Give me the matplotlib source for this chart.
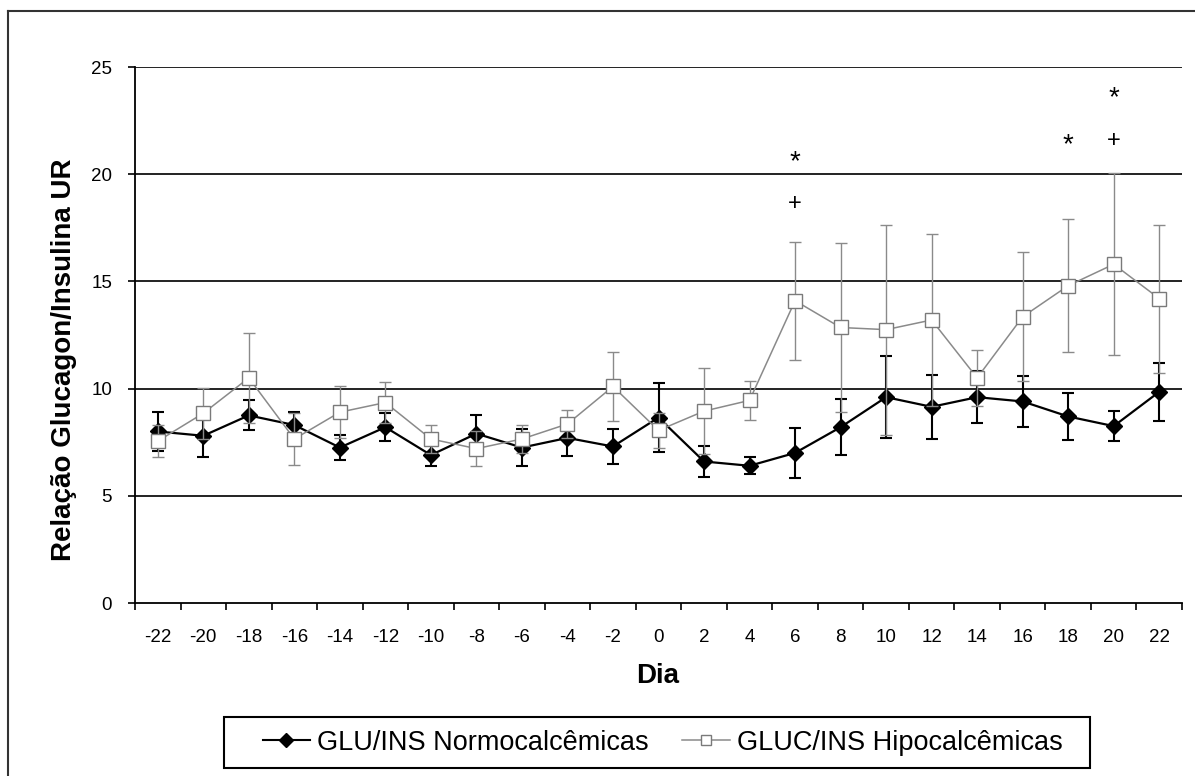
import matplotlib
matplotlib.use("Agg")
import matplotlib.pyplot as plt
from matplotlib.lines import Line2D
from matplotlib.patches import Rectangle

plt.rcParams['font.family'] = ['Liberation Sans', 'DejaVu Sans']

# ---- data ----
day_labels = ['-22', '-20', '-18', '-16', '-14', '-12', '-10', '-8', '-6', '-4', '-2',
              '0', '2', '4', '6', '8', '10', '12', '14', '16', '18', '20', '22']
normo = [8.0, 7.8, 8.75, 8.3, 7.25, 8.2, 6.9, 7.9, 7.25, 7.7, 7.3,
         8.65, 6.6, 6.4, 7.0, 8.2, 9.6, 9.15, 9.6, 9.4, 8.7, 8.25, 9.85]
normo_err = [0.9, 1.0, 0.7, 0.6, 0.6, 0.65, 0.5, 0.85, 0.85, 0.85, 0.8,
             1.6, 0.7, 0.4, 1.15, 1.3, 1.9, 1.5, 1.2, 1.2, 1.1, 0.7, 1.35]
hipo = [7.55, 8.85, 10.5, 7.65, 8.9, 9.35, 7.65, 7.2, 7.65, 8.35, 10.1,
        8.05, 8.95, 9.45, 14.1, 12.85, 12.75, 13.2, 10.5, 13.35, 14.8, 15.8, 14.2]
hipo_err = [0.75, 1.2, 2.1, 1.2, 1.2, 0.95, 0.65, 0.8, 0.65, 0.65, 1.6,
            0.8, 2.0, 0.9, 2.75, 3.95, 4.9, 4.0, 1.3, 3.0, 3.1, 4.25, 3.45]
normo_name = 'GLU/INS Normocalcêmicas'
hipo_name = 'GLUC/INS Hipocalcêmicas'
# significance marks: (day label, y value, symbol)
marks = [('6', 20.55, '*'), ('6', 18.6, '+'),
         ('18', 21.35, '*'), ('20', 23.55, '*'), ('20', 21.55, '+')]
y_ticks = [0, 5, 10, 15, 20, 25]

W, H = 1195, 776
fig = plt.figure(figsize=(W / 100, H / 100), dpi=100)
ax = fig.add_axes([135 / W, 1 - 603 / H, (1182 - 135) / W, (603 - 67) / H])

x = list(range(len(day_labels)))
gray = '#8a8a8a'

# normocalcemic (black)
ax.errorbar(x, normo, yerr=normo_err, fmt='none', ecolor='black',
            elinewidth=1.5, capsize=4.2, capthick=1.5, zorder=3)
ax.plot(x, normo, color='black', lw=1.6, marker='D', markersize=8,
        markerfacecolor='black', markeredgecolor='black', zorder=4)

# hipocalcemic (gray/white squares)
ax.errorbar(x, hipo, yerr=hipo_err, fmt='none', ecolor=gray,
            elinewidth=1.0, capsize=4.2, capthick=1.0, zorder=5)
ax.plot(x, hipo, color=gray, lw=1.1, marker='s', markersize=10.5,
        markerfacecolor='white', markeredgecolor='#7a7a7a', markeredgewidth=1.0,
        zorder=6)

for lab, yv, sym in marks:
    ax.text(day_labels.index(lab), yv, sym, ha='center', va='center',
            fontsize=20 if sym == '*' else 17, color='black', zorder=7)

# axes styling
ax.set_xlim(-0.5, len(day_labels) - 0.5)
ax.set_ylim(0, 25)
ax.set_yticks(y_ticks)
ax.set_yticklabels([str(v) for v in y_ticks])
ax.set_xticks(x)
ax.set_xticklabels(day_labels)
ax.set_xticks([i - 0.5 for i in range(len(day_labels) + 1)], minor=True)
ax.tick_params(axis='x', which='major', length=0, pad=19, labelsize=13.5)
ax.tick_params(axis='x', which='minor', length=5, width=1.2, direction='out')
ax.tick_params(axis='y', which='major', length=5, width=1.2, direction='out',
               pad=11.5, labelsize=13.5)
for yv in y_ticks[1:]:
    ax.axhline(yv, color='#111111', lw=1.3, zorder=1)
ax.spines['top'].set_visible(False)
ax.spines['right'].set_visible(False)
ax.spines['left'].set_linewidth(1.3)
ax.spines['bottom'].set_linewidth(1.3)

fig.text(658 / W, 1 - 676 / H, 'Dia', ha='center', va='center',
         fontsize=20, fontweight='bold')
fig.text(64 / W, 1 - 360 / H, 'Relação Glucagon/Insulina UR', ha='center',
         va='center', rotation=90, fontsize=20, fontweight='bold')

# legend
h1 = Line2D([], [], color='black', lw=1.5, marker='D', markersize=7,
            markerfacecolor='black', markeredgecolor='black')
h2 = Line2D([], [], color=gray, lw=1.1, marker='s', markersize=7,
            markerfacecolor='white', markeredgecolor='#7a7a7a')
leg = fig.legend([h1, h2], [normo_name, hipo_name], loc='center',
                 bbox_to_anchor=(662.5 / W, 1 - 742.5 / H), ncol=2,
                 frameon=False, fontsize=19.5, handlelength=1.75,
                 handletextpad=0.25, columnspacing=1.25, borderpad=0.2)
fig.patches.append(Rectangle((224 / W, 1 - 768 / H), (1090 - 224) / W, (768 - 717) / H,
                             transform=fig.transFigure, fill=False,
                             edgecolor='black', lw=1.5))

# outer border
fig.add_artist(Line2D([8 / W, 8 / W], [0, 1 - 10.7 / H], transform=fig.transFigure,
                      color='#333333', lw=1.5))
fig.add_artist(Line2D([8 / W, 1], [1 - 10.7 / H, 1 - 10.7 / H], transform=fig.transFigure,
                      color='#333333', lw=1.5))

fig.savefig('out.png', dpi=100)
